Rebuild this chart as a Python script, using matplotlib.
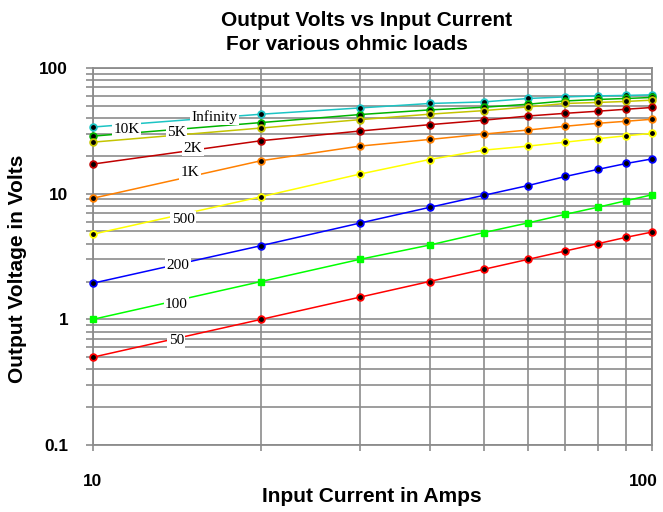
import matplotlib
matplotlib.use("Agg")
import matplotlib.pyplot as plt
import matplotlib.transforms as mtransforms
from matplotlib.ticker import FixedLocator, NullFormatter

# Input current (A) at each measured point
current = [10, 20, 30, 40, 50, 60, 70, 80, 90, 100]

# Output voltage for each load
v_inf = [33.9, 42.9, 48.1, 52.2, 53.7, 57.2, 58.9, 60.0, 60.5, 61.2]
v_10k = [28.7, 36.8, 42.6, 46.4, 48.7, 51.5, 54.7, 56.2, 57.2, 58.3]
v_5k = [25.7, 33.3, 38.8, 42.9, 45.8, 49.0, 52.2, 53.2, 54.2, 55.5]
v_2k = [17.2, 26.4, 31.5, 35.4, 38.4, 41.5, 43.6, 45.3, 47.0, 48.5]
v_1k = [9.2, 18.3, 23.9, 27.0, 29.8, 32.1, 34.4, 36.3, 37.7, 39.1]
v_500 = [4.76, 9.46, 14.3, 18.7, 22.2, 23.9, 25.7, 27.4, 28.9, 30.2]
v_200 = [1.94, 3.86, 5.83, 7.78, 9.7, 11.6, 13.7, 15.6, 17.4, 18.9]
v_100 = [1.0, 2.0, 3.0, 3.9, 4.9, 5.85, 6.85, 7.8, 8.8, 9.8]
v_50 = [0.5, 1.0, 1.5, 2.0, 2.5, 3.0, 3.5, 4.0, 4.5, 4.95]

load_names = ["Infinity", "10K", "5K", "2K", "1K", "500", "200", "100", "50"]
load_values = [v_inf, v_10k, v_5k, v_2k, v_1k, v_500, v_200, v_100, v_50]
colors = ["#1cc4c4", "#00b400", "#c4c400", "#c00000", "#ff8000",
          "#ffff00", "#0000ff", "#00ff00", "#ff0000"]
# where each in-line label sits (current, volts)
label_pos = [(16.5, 41.0), (11.5, 32.5), (14.1, 30.9), (15.1, 23.0), (14.9, 14.8),
             (14.5, 6.28), (14.2, 2.69), (14.1, 1.31), (14.1, 0.68)]

yticks = [0.1, 1, 10, 100]
ytick_labels = ["0.1", "1", "10", "100"]

sans = ["Liberation Sans", "DejaVu Sans"]
serif = ["Liberation Serif", "DejaVu Serif"]
grid_col = "#8c8c8c"

fig = plt.figure(figsize=(6.63, 5.12), dpi=100)
ax = fig.add_axes([93 / 663, 1 - 445 / 512, (652 - 93) / 663, (445 - 68) / 512])

for name, vals, col in zip(load_names, load_values, colors):
    if name == "100":
        ax.plot(current, vals, color=col, lw=1.1, marker="s", ms=5,
                mfc=col, mec=col, clip_on=False, zorder=3)
    else:
        ax.plot(current, vals, color=col, lw=1.1, marker="o", ms=4.8,
                mfc="black", mec=col, mew=1.3, clip_on=False, zorder=3)

for name, (px, py) in zip(load_names, label_pos):
    ax.text(px, py, name, fontsize=11, family=serif, ha="center", va="center",
            bbox=dict(facecolor="white", edgecolor="none", pad=1.0), zorder=5)

ax.set_xscale("log")
ax.set_yscale("log")
ax.set_xlim(10, 100)
ax.set_ylim(0.1, 100)

ax.xaxis.set_major_locator(FixedLocator([10, 100]))
ax.xaxis.set_minor_locator(FixedLocator([20, 30, 40, 50, 60, 70, 80, 90]))
ax.xaxis.set_minor_formatter(NullFormatter())
ax.set_xticklabels(["10", "100"])
ax.set_yticks(yticks)
ax.set_yticklabels(ytick_labels)
ax.yaxis.set_minor_formatter(NullFormatter())

ax.grid(True, which="both", color=grid_col, lw=1.2)
ax.set_axisbelow(True)
for sp in ax.spines.values():
    sp.set_color(grid_col)
    sp.set_linewidth(1.3)

ax.tick_params(axis="both", which="both", direction="out", color=grid_col,
               width=1.2)
ax.tick_params(axis="x", which="both", length=4, pad=17)
ax.tick_params(axis="y", which="both", length=5, pad=13)
for lab in ax.get_xticklabels() + ax.get_yticklabels():
    lab.set_fontsize(12.4)
    lab.set_fontweight("bold")
    lab.set_family(sans)

# nudge the right-hand "100" inwards so it stays on the canvas
shift = mtransforms.ScaledTranslation(-9 / 100, 0, fig.dpi_scale_trans)
last = ax.get_xticklabels()[-1]
last.set_transform(last.get_transform() + shift)

fig.text(367 / 663, 1 - 20 / 512, "Output Volts vs Input Current", ha="center",
         va="center", fontsize=15, fontweight="bold", family=sans)
fig.text(347 / 663, 1 - 44 / 512, "For various ohmic loads", ha="center",
         va="center", fontsize=15, fontweight="bold", family=sans)
fig.text(372 / 663, 1 - 497 / 512, "Input Current in Amps", ha="center",
         va="center", fontsize=15, fontweight="bold", family=sans)
fig.text(18 / 663, 1 - 269 / 512, "Output Voltage in Volts", ha="center",
         va="center", rotation=90, fontsize=15, fontweight="bold", family=sans)

fig.savefig("out.png", dpi=100)
